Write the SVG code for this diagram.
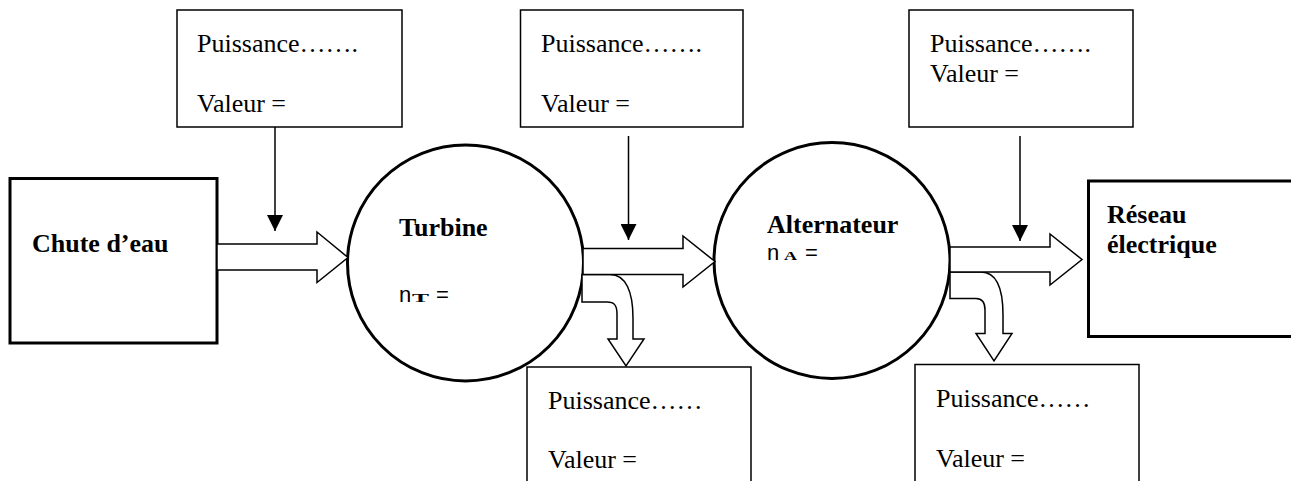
<svg xmlns="http://www.w3.org/2000/svg" width="1291" height="481" viewBox="0 0 1291 481">
<style>
.bg{fill:#fff}
.box{fill:#fff;stroke:#000;stroke-width:1.5}
.thick{fill:#fff;stroke:#000;stroke-width:3}
.arr{fill:#fff;stroke:#000;stroke-width:1.5;stroke-linejoin:miter}
.ln{fill:none;stroke:#000;stroke-width:1.5}
.t{font-family:"Liberation Serif","Times New Roman",serif;font-size:26px;fill:#000}
.b{font-family:"Liberation Serif","Times New Roman",serif;font-size:26px;font-weight:bold;fill:#000}
.s{font-family:"Liberation Sans",Arial,sans-serif;font-size:22px;fill:#000}
.sub{font-family:"Liberation Serif","Times New Roman",serif;font-size:12px;font-weight:bold;fill:#000}
</style>
<defs>
<marker id="ah" markerWidth="16" markerHeight="16" viewBox="0 0 16 16" refX="16" refY="8" orient="auto" markerUnits="userSpaceOnUse">
<path d="M0,0 L16,8 L0,16 Z" fill="#000"/>
</marker>
</defs>
<rect class="bg" x="0" y="0" width="1291" height="481"/>

<g id="chute">
<rect class="thick" x="10" y="178.5" width="207" height="164.5"/>
<text class="b" x="32" y="252">Chute d’eau</text>
</g>

<g id="turbine">
<circle class="thick" cx="465.5" cy="263" r="118"/>
<text class="b" x="399" y="236">Turbine</text>
<text class="s" x="399" y="302">n</text>
<text class="sub" x="412" y="302" textLength="17" lengthAdjust="spacingAndGlyphs">T</text>
<text class="s" x="436" y="302">=</text>
</g>

<g id="alternateur">
<circle class="thick" cx="832" cy="260.5" r="118"/>
<text class="b" x="767" y="233">Alternateur</text>
<text class="s" x="767" y="260">n</text>
<text class="sub" x="784" y="260" textLength="13" lengthAdjust="spacingAndGlyphs" font-size="10">A</text>
<text class="s" x="805" y="260">=</text>
</g>

<g id="reseau">
<rect class="thick" x="1088.5" y="181" width="205" height="155.5"/>
<text class="b" x="1107" y="223">Réseau</text>
<text class="b" x="1107" y="253">électrique</text>
</g>

<g id="p1">
<rect class="box" x="177" y="10" width="225" height="117"/>
<text class="t" x="197" y="52">Puissance…….</text>
<text class="t" x="197" y="112">Valeur =</text>
</g>

<g id="p2">
<rect class="box" x="520.5" y="10" width="222.5" height="117"/>
<text class="t" x="541" y="52">Puissance…….</text>
<text class="t" x="541" y="112">Valeur =</text>
</g>

<g id="p3">
<rect class="box" x="909" y="10" width="224" height="117"/>
<text class="t" x="930" y="52">Puissance…….</text>
<text class="t" x="930" y="82">Valeur =</text>
</g>

<g id="pertes1">
<rect class="box" x="527" y="367" width="224" height="130"/>
<text class="t" x="548" y="409">Puissance……</text>
<text class="t" x="548" y="468">Valeur =</text>
</g>

<g id="pertes2">
<rect class="box" x="915" y="364.5" width="224" height="130"/>
<text class="t" x="936" y="407">Puissance……</text>
<text class="t" x="936" y="467">Valeur =</text>
</g>

<g id="connectors">
<polygon class="arr" points="217,244 317,244 317,232 348,257.5 317,282.5 317,270 217,270"/>
<path class="arr" d="M582,274.5 H610 C626,274.5 633,292 633,318 V339 H644 L626,366 L608,339 H617 V314 C617,305 614,302 607,302 H582 Z"/>
<polygon class="arr" points="583,248.5 683,248.5 683,236 715,261.5 683,287 683,274.5 583,274.5"/>
<path class="arr" d="M950,272 H981 C996,272 1003,288 1003,315 V333.5 H1012 L994,361 L976,333.5 H985 V310 C985,302 982,298.5 976,298.5 H950 Z"/>
<polygon class="arr" points="950,247 1050,247 1050,234 1082,259.5 1050,285 1050,272 950,272"/>
<line class="ln" x1="275" y1="127" x2="275" y2="231" marker-end="url(#ah)"/>
<line class="ln" x1="628.5" y1="136" x2="628.5" y2="240" marker-end="url(#ah)"/>
<line class="ln" x1="1020" y1="136" x2="1020" y2="241" marker-end="url(#ah)"/>
</g>
</svg>
